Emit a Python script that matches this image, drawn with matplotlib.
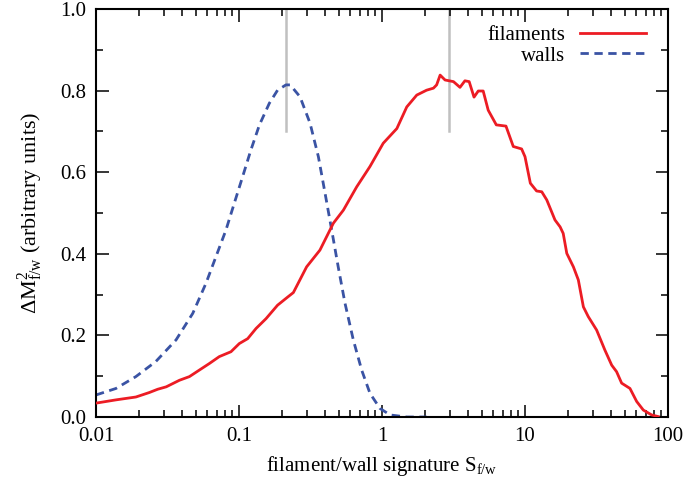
import numpy as np
import matplotlib
matplotlib.use("Agg")
import matplotlib.pyplot as plt
from matplotlib.ticker import FixedLocator, LogLocator, NullFormatter, FixedFormatter

plt.rcParams['font.family'] = ['Liberation Serif', 'DejaVu Serif']
plt.rcParams['mathtext.fontset'] = 'custom'
plt.rcParams['mathtext.rm'] = 'Liberation Serif'
plt.rcParams['mathtext.it'] = 'Liberation Serif:italic'

# walls (blue dashed)
walls_x = [0.01, 0.0138, 0.0190, 0.0262, 0.0363, 0.0475, 0.0588, 0.069, 0.081, 0.0927,
           0.106, 0.121, 0.139, 0.163, 0.186, 0.213, 0.228, 0.267, 0.314, 0.359,
           0.40, 0.445, 0.494, 0.551, 0.63, 0.721, 0.824, 0.968, 1.14, 1.49, 2.05]
walls_y = [0.054, 0.070, 0.099, 0.136, 0.189, 0.254, 0.328, 0.393, 0.458, 0.524,
           0.589, 0.654, 0.716, 0.769, 0.801, 0.814, 0.814, 0.785, 0.720, 0.638,
           0.548, 0.458, 0.368, 0.279, 0.189, 0.115, 0.058, 0.021, 0.005, 0.0, 0.0]

# filaments (red solid)
fil_x = [0.01, 0.0138, 0.019, 0.0236, 0.027, 0.031, 0.0383, 0.045, 0.0528, 0.062,
         0.0728, 0.0879, 0.1005, 0.115, 0.1316, 0.1545, 0.186, 0.219, 0.24, 0.297,
         0.368, 0.457, 0.537, 0.665, 0.824, 1.02, 1.27, 1.49, 1.75, 2.05,
         2.29, 2.41, 2.55, 2.76, 3.16, 3.51, 3.8, 4.07, 4.4, 4.71,
         5.1, 5.53, 6.3, 7.36, 8.28, 9.47, 10.0, 10.9, 12.05, 13.1,
         14.2, 16.2, 17.6, 18.5, 19.6, 21.8, 23.6, 25.6, 27.7, 31.7,
         36.2, 40.4, 43.7, 47.4, 54.2, 60.4, 67.2, 76.9, 85.5]
fil_y = [0.034, 0.042, 0.049, 0.060, 0.068, 0.074, 0.090, 0.099, 0.115, 0.131,
         0.148, 0.160, 0.180, 0.192, 0.217, 0.241, 0.274, 0.294, 0.305, 0.368,
         0.409, 0.475, 0.507, 0.564, 0.614, 0.671, 0.707, 0.760, 0.789, 0.801,
         0.806, 0.814, 0.838, 0.826, 0.822, 0.808, 0.824, 0.822, 0.784, 0.799,
         0.799, 0.752, 0.716, 0.713, 0.663, 0.657, 0.638, 0.573, 0.554, 0.552,
         0.532, 0.483, 0.466, 0.45, 0.401, 0.368, 0.336, 0.27, 0.246, 0.213,
         0.164, 0.127, 0.111, 0.083, 0.070, 0.038, 0.017, 0.005, 0.001]

# peak markers (gray vertical lines)
peak_x = [0.212, 2.95]
peak_y0 = 0.7
peak_y1 = 1.0

xticks = [0.01, 0.1, 1, 10, 100]
xticklabels = ["0.01", "0.1", "1", "10", "100"]
yticks = [0.0, 0.2, 0.4, 0.6, 0.8, 1.0]
yticklabels = ["0.0", "0.2", "0.4", "0.6", "0.8", "1.0"]

fig = plt.figure(figsize=(6.87, 4.90), dpi=100)
ax = fig.add_axes([96/687, 1 - 417/490, (668-96)/687, (417-9)/490])

for px in peak_x:
    ax.plot([px, px], [peak_y0, peak_y1], color='#c0c0c0', lw=1.8, zorder=1)

ax.plot(fil_x, fil_y, color='#ec1c24', lw=2.0, label='filaments', zorder=3)
ax.plot(walls_x, walls_y, color='#3a53a4', lw=2.0, dashes=(3.0, 2.0),
        label='walls', zorder=2)

ax.set_xscale('log')
ax.set_xlim(0.01, 100)
ax.set_ylim(0, 1.0)

ax.xaxis.set_major_locator(FixedLocator(xticks))
ax.xaxis.set_major_formatter(FixedFormatter(xticklabels))
ax.xaxis.set_minor_locator(LogLocator(base=10, subs=np.arange(2, 10), numticks=20))
ax.xaxis.set_minor_formatter(NullFormatter())
ax.yaxis.set_major_locator(FixedLocator(yticks))
ax.yaxis.set_major_formatter(FixedFormatter(yticklabels))
ax.yaxis.set_minor_locator(FixedLocator([0.1, 0.3, 0.5, 0.7, 0.9]))

ax.tick_params(which='both', direction='in', top=True, right=True, width=1.1,
               labelsize=15, colors='black')
ax.tick_params(which='major', length=9, pad=7)
ax.tick_params(which='minor', length=5)
for s in ax.spines.values():
    s.set_linewidth(1.5)

ax.set_xlabel(r"filament/wall signature S$_{\mathregular{f/w}}$", fontsize=15, labelpad=6)
ax.set_ylabel(r"$\mathregular{\Delta M}^{2}_{\mathregular{f/w}}$ (arbitrary units)",
              fontsize=16, labelpad=11)

leg = ax.legend(loc='upper right', bbox_to_anchor=(0.962, 0.96), frameon=False,
                markerfirst=False, fontsize=15, handlelength=3.2, handletextpad=0.7,
                borderaxespad=0.0, borderpad=0.0, labelspacing=0.05)
for t in leg.get_texts():
    t.set_ha('right')

fig.savefig('out.png', dpi=100)
